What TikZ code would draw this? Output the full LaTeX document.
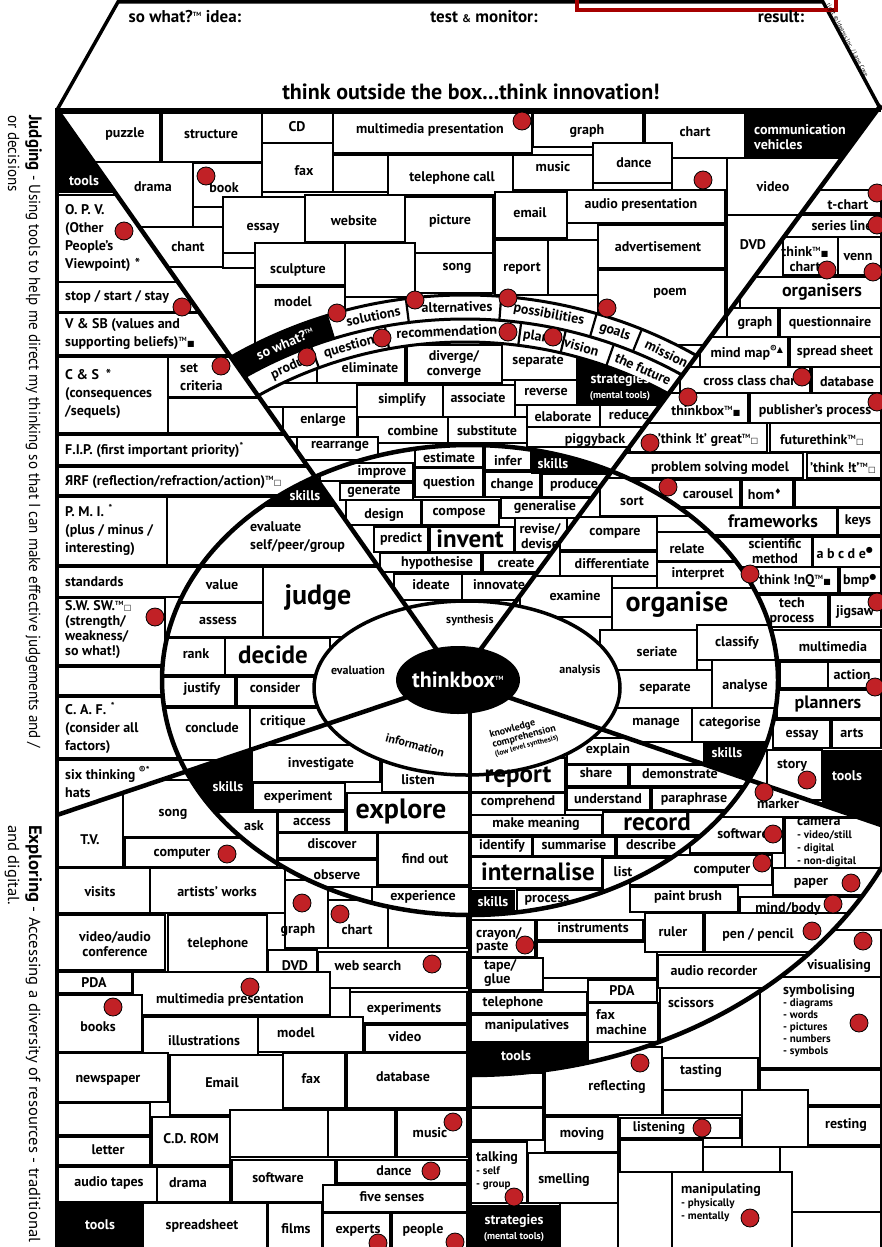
\documentclass[tikz,border=0pt]{standalone}
\usepackage{fontspec}
\setmainfont{PT Sans}
\newfontfamily\symfont{DejaVu Sans}
\definecolor{dotred}{RGB}{193,33,38}
\newcommand\tm{\textsuperscript{\fontsize{6}{6}\selectfont TM}}
\newcommand\sym[1]{{\symfont\fontsize{8}{8}\selectfont #1}}
\tikzset{
  brick/.style={draw=black,fill=white,line width=2.2pt},
  word/.style={font=\bfseries\fontsize{14}{15}\selectfont,inner sep=0pt,align=center},
  lword/.style={word,align=left,anchor=west},
  bigword/.style={word,font=\bfseries\fontsize{28}{30}\selectfont},
  midword/.style={word,font=\bfseries\fontsize{18}{19}\selectfont},
  inv/.style={word,text=white},
  lbl/.style={word,font=\bfseries\fontsize{12}{12}\selectfont},
  spoke/.style={line width=4.5pt},
  redot/.style={fill=dotred,draw=black,line width=0.8pt},
  regTM/.style={insert path={(57,110)--(881,105)--(458,680)--cycle}},
  regL/.style={insert path={(57,110)--(458,680)--(57,815)--cycle}},
  regR/.style={insert path={(881,105)--(458,680)--(881,825)--(900,825)--(900,100)--cycle}},
  regLL/.style={insert path={(57,815)--(458,680)--(470,690)--(470,1260)--(57,1260)--cycle}},
  regLR/.style={insert path={(458,680)--(881,825)--(900,825)--(900,1260)--(470,1260)--(470,690)--cycle}},
  bigell/.style={insert path={(470,680) ellipse [x radius=308pt,y radius=235pt]}},
  toolell/.style={insert path={(470,700) ellipse [x radius=460pt,y radius=375pt]}}
}
\newcommand\bricks[1]{\foreach \xa/\ya/\xb/\yb in {#1}{\draw[brick] (\xa,\ya) rectangle (\xb,\yb);}}
\newcommand\words[2][]{\foreach \n/\x/\y/\t in {#2}{\node[word,#1] (\n) at (\x,\y) {\t};}}

\begin{document}
\begin{tikzpicture}[x=1pt,y=-1pt]
\useasboundingbox (0,0) rectangle (881,1247);
\fill[white] (0,0) rectangle (881,1247);

% header
\draw[line width=3.5pt,fill=white] (57,110) -- (118,2) -- (823,2) -- (881,110);
\draw[draw=red!65!black,line width=3.5pt] (577,-10) rectangle (836,10);
\node[word,font=\bfseries\fontsize{17}{17}\selectfont] (idea) at (185,17) {so what?\tm{} idea:};
\node[word,font=\bfseries\fontsize{17}{17}\selectfont] (test) at (484,17) {test {\fontsize{11}{11}\selectfont\&} monitor:};
\node[word,font=\bfseries\fontsize{17}{17}\selectfont] (result) at (781,17) {result:};
\node[word,font=\bfseries\fontsize{22}{22}\selectfont] (motto) at (471,92) {think outside the box...think innovation!};
\node[word,font=\fontsize{6}{6}\selectfont,rotate=-62,anchor=west] (copy) at (828,4) {right © Ideasys Inc. / Lane Cove};

% side texts
\node[rotate=-90,anchor=north west,align=left,inner sep=0pt,font=\fontsize{16}{21}\selectfont] (judging) at (42,115)
  {\scalebox{0.94}[1]{\textbf{\fontsize{18}{21}\selectfont Judging} - Using tools to help me direct my thinking so that I can make effective judgements and /}\\\scalebox{0.94}[1]{or decisions}};
\node[rotate=-90,anchor=north west,align=left,inner sep=0pt,font=\fontsize{16}{21}\selectfont] (exploring) at (42,825)
  {\scalebox{1.04}[1]{\textbf{\fontsize{18}{21}\selectfont Exploring} - Accessing a diversity of resources - traditional}\\\scalebox{1.04}[1]{and digital.}};

% top middle, above the band
\begin{scope}
  \clip[regTM];
  \bricks{57/113/160/162, 162/113/262/162, 262/113/333/143, 333/113/532/153, 533/113/643/147, 645/113/745/158,
    80/162/193/227, 193/163/262/207, 262/143/333/192, 333/155/388/192, 388/155/513/195, 513/155/593/190,
    593/143/672/183, 672/158/727/190, 567/190/725/223, 727/158/900/215, 100/227/223/267, 223/197/305/253,
    305/195/405/242, 405/197/493/253, 495/192/567/238, 150/267/255/400, 223/253/255/268, 255/243/345/285,
    345/243/415/297, 415/253/493/293, 495/240/548/295, 548/240/598/300, 598/225/725/268, 727/215/900/400,
    255/287/345/345, 345/297/415/345, 415/293/495/345, 495/295/598/345, 598/270/725/345, 725/345/800/400}
  \fill (745,110) rectangle (900,158);
  % band
  \fill[white] (465,767) circle (472pt);
  \begin{scope}
    \clip (465,767) -- (260,98) -- (-193,528) -- cycle;
    \fill[even odd rule] (465,767) circle (472pt) (465,767) circle (448pt);
  \end{scope}
  \fill[white] (465,767) circle (425pt);
\end{scope}

% top middle, below the band
\begin{scope}
  \clip[regTM];
  \clip (465,767) circle (425pt);
  \bricks{200/345/317/383, 317/345/405/383, 407/345/502/383, 502/343/577/380, 515/380/577/405,
    200/383/357/407, 357/385/443/417, 443/385/515/417, 250/407/283/437, 283/407/357/437, 515/405/527/427,
    527/405/600/427, 600/405/700/427, 358/417/448/443, 448/417/527/443, 527/427/700/447, 297/437/378/460,
    378/443/527/460, 527/447/700/470}
  \fill (577,330) rectangle (700,405);
\end{scope}

% left of the judging line
\begin{scope}
  \clip[regL];
  \bricks{57/195/200/282, 57/282/200/312, 57/313/250/355, 57/357/168/433, 168/357/260/397, 168/398/300/433,
    57/435/307/465, 57/467/320/495, 57/497/167/565, 167/497/400/565, 57/567/200/597, 57/598/165/665,
    57/667/163/695, 57/697/200/758, 57/760/200/830}
  \fill (40,100) rectangle (300,193);
\end{scope}

% right of the organising line
\begin{scope}
  \clip[regR];
  \bricks{800/190/881/213, 780/215/881/237, 783/237/838/275, 838/237/881/275, 740/277/881/308,
    727/308/778/337, 780/308/881/337, 700/337/788/367, 790/337/881/367, 680/367/810/393, 812/367/881/393,
    650/393/748/423, 750/393/881/423, 630/423/767/452, 770/423/881/452, 600/453/803/478, 807/453/881/478,
    600/480/740/507, 742/480/793/507, 795/480/881/507, 600/508/837/535, 838/508/881/535, 600/537/812/567,
    813/537/881/567, 600/567/838/593, 840/567/881/593, 600/595/828/627, 830/595/881/627, 600/630/881/660,
    780/662/828/688, 828/662/881/688, 777/690/881/718, 773/720/830/748, 832/720/881/748, 767/750/822/800}
  \fill (822,750) rectangle (900,850);
\end{scope}

% lower left
\begin{scope}
  \clip[regLL];
  \bricks{58/790/123/867, 123/780/240/837, 125/838/277/867, 58/868/150/913, 150/868/285/913,
    285/880/328/948, 328/900/388/948, 388/900/467/948, 58/915/165/970, 168/915/267/973, 268/950/317/977,
    318/952/467/988, 58/972/132/993, 133/972/330/1015, 330/988/350/1023, 350/992/467/1023, 58/995/142/1052,
    143/1017/258/1062, 258/1017/363/1052, 365/1025/467/1052, 58/1053/168/1102, 170/1055/283/1115,
    283/1053/345/1108, 347/1053/467/1108, 58/1103/150/1135, 58/1137/150/1165, 152/1117/230/1165,
    230/1110/328/1157, 328/1110/395/1157, 397/1110/467/1157, 58/1167/157/1202, 157/1167/230/1202,
    232/1160/335/1202, 337/1160/467/1183, 323/1185/467/1212, 143/1203/267/1260, 268/1203/322/1260,
    323/1213/390/1260, 392/1213/467/1260}
  \fill (57,1203) rectangle (143,1260);
\end{scope}

% lower right, outside the tools arc
\begin{scope}
  \clip[regLR];
  \bricks{760/930/881/977, 760/977/881/1068, 545/1047/662/1115, 663/1058/758/1090, 760/1070/881/1105,
    470/1073/543/1107, 663/1090/742/1115, 742/1090/808/1147, 808/1107/881/1145, 470/1108/543/1140,
    545/1117/618/1152, 620/1118/740/1138, 620/1140/703/1172, 703/1147/780/1172, 780/1147/881/1212,
    470/1142/527/1203, 528/1153/618/1203, 672/1172/792/1260, 618/1172/672/1260, 792/1212/881/1260,
    560/1203/618/1260}
  \fill (467,1205) rectangle (560,1260);
  \fill[white] [toolell];
\end{scope}

% lower right ring
\begin{scope}
  \clip[regLR];
  \clip[toolell];
  \bricks{680/770/881/817, 690/817/783/853, 785/818/881/868, 630/855/772/885, 773/868/881/895,
    630/887/738/912, 740/897/881/920, 470/920/535/957, 537/920/643/940, 537/942/657/978, 645/913/703/952,
    705/913/881/952, 470/958/543/990, 658/955/881/988, 470/992/587/1013, 588/980/657/1002,
    470/1015/587/1042, 588/1003/658/1042, 660/988/881/1060, 588/1042/660/1090}
  \fill (467,1043) rectangle (588,1100);
\end{scope}

% the big ellipse
\fill[white] [bigell];
\begin{scope}
  \clip[bigell];
  \begin{scope}
    \clip[regTM];
    \bricks{300/430/415/463, 415/430/483/467, 485/430/531/470, 320/463/413/481, 415/468/483/497,
      485/472/540/497, 542/474/620/497, 340/483/413/500, 346/500/421/525, 422/500/499/525, 501/498/620/518,
      374/527/428/552, 430/527/514/552, 515/518/567/552, 380/553/481/572, 483/553/560/572,
      394/574/462/600, 462/574/545/600}
    \fill (531,430) rectangle (640,474);
  \end{scope}
  \begin{scope}
    \clip[regL];
    \bricks{160/497/420/565, 160/567/263/602, 160/603/263/637, 263/567/420/637, 160/638/225/675,
      225/638/330/675, 160/677/235/706, 237/677/330/706, 160/708/250/760, 250/708/400/760}
    \fill (150,430) rectangle (420,507);
  \end{scope}
  \begin{scope}
    \clip[regR];
    \bricks{600/478/690/516, 560/517/657/550, 560/552/657/576, 657/532/760/561, 657/562/760/588,
      612/588/790/630, 520/576/612/617, 600/630/697/670, 697/625/790/660, 600/670/712/708,
      712/660/790/708, 600/708/692/742, 692/708/790/742}
    \fill (703,742) rectangle (800,800);
  \end{scope}
  \begin{scope}
    \clip[regLL];
    \bricks{252/745/380/782, 382/745/470/792, 253/783/345/810, 347/793/470/832, 200/812/277/867,
      278/812/345/832, 278/833/377/858, 378/833/470/885, 278/860/377/887, 372/887/470/920, 277/887/372/920}
    \fill (150,740) rectangle (252,812);
  \end{scope}
  \begin{scope}
    \clip[regLR];
    \bricks{567/738/700/764, 470/758/565/792, 567/765/628/786, 630/765/760/786, 470/793/565/815,
      567/788/650/810, 652/788/760/810, 470/815/602/835, 603/812/760/835, 470/837/532/856,
      533/837/615/856, 617/837/760/856, 470/857/602/888, 603/858/700/890, 517/890/610/930}
    \fill (467,890) rectangle (515,930);
  \end{scope}
\end{scope}
\draw[line width=3.5pt,fill=white] (467,688) ellipse [x radius=153pt,y radius=87pt];

% band lines
\begin{scope}
  \clip[regTM];
  \foreach \r in {472,448,425} \draw[line width=3pt] (465,767) circle (\r pt);
  \foreach \a in {107,97.2,85.6,73.8,68} \draw[line width=2.2pt] ([shift={(\a:448pt)}]465,767) -- ([shift={(\a:472pt)}]465,767);
  \foreach \a in {110.1,100.3,82.8,77,70.6} \draw[line width=2.2pt] ([shift={(\a:425pt)}]465,767) -- ([shift={(\a:448pt)}]465,767);
\end{scope}
\begin{scope}
  \clip[regLR];
  \draw[line width=4.5pt] [toolell];
\end{scope}
\draw[line width=4.5pt] [bigell];

% spokes
\draw[spoke] (57,110) -- (458,680);
\draw[spoke] (881,105) -- (458,680);
\draw[spoke] (57,815) -- (458,680);
\draw[spoke] (881,825) -- (458,680);
\draw[spoke] (470,690) -- (470,1250);
\fill (458,680) ellipse [x radius=62pt,y radius=34pt];
\draw[line width=4pt] (57,1250) -- (57,110) -- (881,110);

% words: top middle
\words{puzzle/125/134/puzzle, structure/211/134/structure, cd/297/127/CD, mmpres/430/130/multimedia presentation,
  graphA/587/131/graph, chartA/695/132/chart, drama/153/187/drama, book/224/188/book, faxA/304/171/fax,
  telcall/452/178/telephone call, musicA/553/167/music, danceA/634/163/dance, audiopres/641/205/audio presentation,
  videoA/773/187/video, chant/188/247/chant, essayA/263/228/essay, website/354/221/website, picture/450/221/picture,
  email/530/213/email, sculpture/298/270/sculpture, songA/457/268/song, reportA/522/268/report,
  advert/658/247/advertisement, dvdA/753/245/DVD, modelA/293/302/model, poem/670/293/poem,
  eliminate/370/368/eliminate, diverge/454/364/{diverge/\\converge}, separateA/538/361/separate,
  reverse/546/392/reverse, simplify/402/400/simplify, associate/478/398/associate, enlarge/323/420/enlarge,
  elaborate/563/417/elaborate, reduce/629/415/reduce, combine/413/431/combine, substitute/487/431/substitute,
  piggyback/595/440/piggyback, rearrange/340/446/rearrange}
\node[inv,align=left,anchor=west] (commveh) at (754,137) {communication\\vehicles};
\node[inv] (strategiesA) at (620,387) {strategies\\{\fontsize{10}{10}\selectfont(mental tools)}};

% words: the band
\node[inv,rotate=23] (sowhat) at ([shift={(113:460pt)}]465,767) {so what?\tm};
\node[word,rotate=11.5] (solutions) at ([shift={(101.5:460pt)}]465,767) {solutions};
\node[word,rotate=1] (alternatives) at ([shift={(91:460pt)}]465,767) {alternatives};
\node[word,rotate=-10.5] (possibilities) at ([shift={(79.5:460pt)}]465,767) {possibilities};
\node[word,rotate=-19] (goals) at ([shift={(71:460pt)}]465,767) {goals};
\node[word,rotate=-26] (mission) at ([shift={(64:460pt)}]465,767) {mission};
\node[word,rotate=24] (produ) at ([shift={(114:436pt)}]465,767) {produ};
\node[word,rotate=15.4] (questionA) at ([shift={(105.4:436pt)}]465,767) {question};
\node[word,rotate=2.4] (recommend) at ([shift={(92.4:436pt)}]465,767) {recommendation};
\node[word,rotate=-9.4] (plan) at ([shift={(80.6:436pt)}]465,767) {plan};
\node[word,rotate=-15.5] (vision) at ([shift={(74.5:436pt)}]465,767) {vision};
\node[word,rotate=-24] (future) at ([shift={(65.9:436pt)}]465,767) {the future};

% words: judging side
\node[lword,font=\bfseries\fontsize{14}{18}\selectfont] (opv) at (65,238) {O. P. V.\\(Other\\People's\\Viewpoint)\,\,*};
\node[lword] (stop) at (65,297) {stop / start / stay};
\node[lword,font=\bfseries\fontsize{14}{18}\selectfont] (vsb) at (65,334) {V \& SB (values and\\supporting beliefs)\tm\sym{■}};
\node[lword,font=\bfseries\fontsize{14}{18}\selectfont] (cs) at (65,394) {C \& S\,\,\,*\\(consequences\\/sequels)};
\node[lword,font=\bfseries\fontsize{14}{18}\selectfont] (setcrit) at (180,377) {set\\criteria};
\node[lword] (fip) at (65,450) {F.I.P. (first important priority)\textsuperscript{*}};
\node[lword] (rrf) at (65,482) {ЯRF (reflection/refraction/action)\tm\sym{□}};
\node[lword,font=\bfseries\fontsize{14}{18}\selectfont] (pmi) at (65,530) {P. M. I.\,\,\textsuperscript{*}\\(plus / minus /\\interesting)};
\node[lword] (standards) at (65,582) {standards};
\node[lword,font=\bfseries\fontsize{14}{15}\selectfont] (swsw) at (65,630) {S.W. SW.\tm\sym{□}\\(strength/\\weakness/\\so what!)};
\node[lword,font=\bfseries\fontsize{14}{18}\selectfont] (caf) at (65,728) {C. A. F.\,\,\textsuperscript{*}\\(consider all\\factors)};
\node[lword,font=\bfseries\fontsize{14}{18}\selectfont] (six) at (65,782) {six thinking \textsuperscript{®*}\\hats};
\node[inv] (toolsA) at (84,181) {tools};

% words: organising side
\words{tchart/848/205/t-chart, seriesline/842/226/series line, thinkchart/805/259/{think\tm\sym{■}\\chart},
  venn/858/257/venn, graphB/755/323/graph, questionnaire/830/323/questionnaire,
  mindmap/747/353/mind map\textsuperscript{®\sym{▲}}, spreadsheetA/835/352/spread sheet,
  crossclass/752/381/cross class chart, databaseA/847/382/database, thinkboxA/706/411/thinkbox\tm\sym{■},
  publisher/815/411/publisher's process, greatthink/708/440/'think !t' great\tm\sym{□},
  futurethink/822/440/futurethink\tm\sym{□}, problem/720/468/problem solving model,
  thinkit/843/468/'think !t'\tm\sym{□}, carousel/708/494/carousel, hom/765/494/hom\textsuperscript{\sym{♦}},
  keys/858/521/keys, scientific/775/551/{scientific\\method}, abcde/845/553/a b c d e\textsuperscript{\sym{●}},
  thinknq/795/581/think !nQ\tm\sym{■}, bmp/860/581/bmp\textsuperscript{\sym{●}}, tech/792/611/{tech\\process},
  jigsaw/855/612/jigsaw, multimediaA/833/647/multimedia, action/852/675/action, essayB/802/735/essay,
  arts/852/733/arts, story/792/766/story}
\words[midword]{organisers/822/292/organisers, frameworks/773/521/frameworks, planners/828/704/planners}
\node[inv] (toolsB) at (847,776) {tools};
\node[inv] (skillsR) at (727,753) {skills};

% words: inside the big ellipse
\words{estimate/449/458/estimate, infer/508/461/infer, improve/382/472/improve, questionB/449/483/question,
  change/512/485/change, produce/574/485/produce, generate/374/492/generate, design/384/515/design,
  compose/459/513/compose, generalise/545/507/generalise, predict/401/539/predict,
  revise/540/536/{revise/\\devise}, hypothesise/437/563/hypothesise, create/516/563/create,
  ideate/431/585/ideate, innovate/499/585/innovate,
  value/222/585/value, assess/218/621/assess, rank/196/654/rank, justify/202/689/justify,
  consider/275/688/consider, conclude/212/728/conclude, critique/283/722/critique,
  sort/632/501/sort, compare/615/533/compare, differentiate/612/564/differentiate, relate/687/549/relate,
  interpret/698/574/interpret, examine/575/596/examine, classify/737/643/classify, seriate/657/652/seriate,
  separateB/665/688/separate, analyse/745/686/analyse, manage/656/723/manage, categorise/730/723/categorise,
  investigate/321/764/investigate, listen/418/780/listen, experiment/298/797/experiment, ask/254/826/ask,
  access/312/822/access, discover/332/844/discover, findout/425/859/find out, observe/337/875/observe,
  experience/423/897/experience,
  explain/608/750/explain, share/596/773/share, demonstrate/680/774/demonstrate, comprehend/518/802/comprehend,
  understand/608/799/understand, paraphrase/694/799/paraphrase, makemeaning/536/824/make meaning,
  identify/502/846/identify, summarise/574/845/summarise, describe/651/845/describe, list/623/872/list,
  process/547/900/process}
\words[bigword]{judge/318/598/judge, organise/677/605/organise, explore/401/811/explore}
\words[word,font=\bfseries\fontsize{25}{26}\selectfont]{decide/273/655/decide, invent/470/539/invent,
  report/518/777/report, record/657/822/record, internalise/538/872/internalise}
\node[lword,font=\bfseries\fontsize{14}{18}\selectfont] (evaluate) at (250,537) {evaluate\\self/peer/group};
\node[inv] (skillsT) at (553,464) {skills};
\node[inv] (skillsL) at (305,496) {skills};
\node[inv] (skillsLL) at (228,787) {skills};
\node[inv] (skillsLR) at (493,902) {skills};

% words: inner ellipse
\node[lbl] (synthesis) at (470,620) {synthesis};
\node[lbl] (evaluation) at (358,670) {evaluation};
\node[lbl] (analysis) at (580,670) {analysis};
\node[lbl,rotate=-15] (information) at (415,745) {information};
\node[lbl,rotate=15,align=left,font=\bfseries\fontsize{10}{9}\selectfont] (knowledge) at (524,736)
  {knowledge\\comprehension\\{\fontsize{7.5}{8}\selectfont(low level synthesis)}};
\node[word,text=white,font=\bfseries\fontsize{22}{22}\selectfont] (thinkbox) at (458,680) {thinkbox\tm};

% words: lower left
\words{tv/90/840/T.V., songB/173/814/song, computerA/182/853/computer, visits/100/892/visits,
  artists/217/892/artists' works, graphC/298/930/graph, chartB/357/930/chart, vidconf/115/944/{video/audio\\conference},
  telephoneA/218/944/telephone, dvdB/295/966/DVD, websearch/368/966/web search, pda/94/983/PDA,
  mmpresB/230/1000/multimedia presentation, experiments/404/1009/experiments, books/98/1027/books,
  illustrations/204/1041/illustrations, modelB/296/1033/model, videoB/405/1037/video, newspaper/108/1080/newspaper,
  emailB/222/1083/Email, faxB/311/1079/fax, databaseB/403/1077/database, letter/108/1150/letter,
  cdrom/191/1139/C.D. ROM, musicB/430/1133/music, audiotapes/109/1183/audio tapes, dramaB/188/1183/drama,
  software/278/1178/software, danceB/394/1171/dance, fivesenses/392/1197/five senses,
  spreadsheetB/202/1226/spreadsheet, films/296/1229/films, experts/358/1230/experts, people/423/1230/people}
\node[inv] (toolsC) at (100,1225) {tools};

% words: lower right
\words{marker/778/804/marker, softwareB/743/834/software, computerB/722/870/computer, paper/811/883/paper,
  paintbrush/688/897/paint brush, mindbody/788/909/{mind/body}, instruments/593/928/instruments,
  ruler/673/932/ruler, pencil/758/935/{pen / pencil}, audiorec/714/971/audio recorder,
  telephoneB/513/1003/telephone, pdaB/622/991/PDA, manip/527/1026/manipulatives, scissors/691/1003/scissors,
  visualising/839/966/visualising, reflecting/617/1087/reflecting, tasting/701/1071/tasting,
  resting/846/1125/resting, moving/582/1134/moving, listening/659/1128/listening, smelling/564/1180/smelling}
\node[lword,font=\bfseries\fontsize{14}{13}\selectfont] (camera) at (797,843)
  {camera\\{\fontsize{11}{11}\selectfont - video/still}\\{\fontsize{11}{11}\selectfont - digital}\\{\fontsize{11}{11}\selectfont - non-digital}};
\node[lword,font=\bfseries\fontsize{14}{13}\selectfont] (crayon) at (476,940) {crayon/\\paste};
\node[lword,font=\bfseries\fontsize{14}{12}\selectfont] (tape) at (484,973) {tape/\\glue};
\node[lword,font=\bfseries\fontsize{14}{15}\selectfont] (faxmach) at (596,1022) {fax\\machine};
\node[lword,font=\bfseries\fontsize{14}{12}\selectfont] (symbolising) at (783,1021)
  {symbolising\\{\fontsize{11}{11}\selectfont - diagrams}\\{\fontsize{11}{11}\selectfont - words}\\{\fontsize{11}{11}\selectfont - pictures}\\{\fontsize{11}{11}\selectfont - numbers}\\{\fontsize{11}{11}\selectfont - symbols}};
\node[lword,font=\bfseries\fontsize{14}{13}\selectfont] (talking) at (476,1171) {talking\\{\fontsize{11}{11}\selectfont - self}\\{\fontsize{11}{11}\selectfont - group}};
\node[lword,font=\bfseries\fontsize{14}{13}\selectfont] (manipulating) at (681,1203) {manipulating\\{\fontsize{11}{11}\selectfont - physically}\\{\fontsize{11}{11}\selectfont - mentally}};
\node[inv] (toolsD) at (516,1056) {tools};
\node[inv] (strategiesB) at (514,1228) {strategies\\{\fontsize{10}{10}\selectfont(mental tools)}};

% red dots
\foreach \x/\y in {522/121, 206/176, 703/180, 337/313, 415/300, 508/298, 607/308, 307/357, 382/338, 508/332, 553/337,
  124/231, 182/307, 221/366, 155/617, 877/193, 877/225, 827/270, 873/272, 802/377, 688/397, 877/402, 650/443,
  668/487, 750/574, 877/602, 875/687, 807/780, 227/854, 302/903, 340/914, 432/964, 250/987, 113/1007, 453/1122,
  431/1171, 378/1243, 455/1242, 764/792, 773/834, 762/863, 851/883, 833/904, 525/945, 812/931, 863/941,
  859/1023, 640/1063, 702/1128, 514/1197, 750/1218}
  \draw[redot] (\x,\y) circle (9pt);
\end{tikzpicture}
\end{document}
